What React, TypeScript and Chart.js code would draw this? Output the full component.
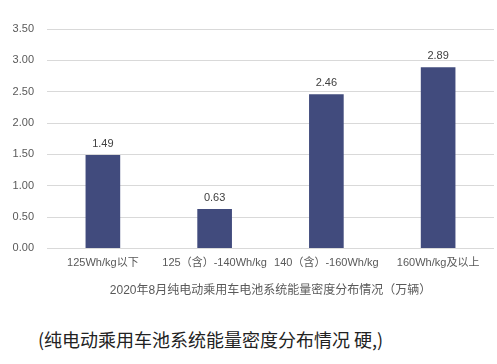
import React, { useEffect, useRef } from "react";
import { Chart, registerables } from "chart.js";

Chart.register(...registerables);

const categories = ["125Wh/kg以下", "125（含）-140Wh/kg", "140（含）-160Wh/kg", "160Wh/kg及以上"];
const values = [1.49, 0.63, 2.46, 2.89];
const yTicks = [0, 0.5, 1, 1.5, 2, 2.5, 3, 3.5];
const axisTitle = "2020年8月纯电动乘用车电池系统能量密度分布情况（万辆）";
const caption = "(纯电动乘用车池系统能量密度分布情况 硬,)";

const FONT = "'Liberation Sans', 'Noto Sans CJK SC', sans-serif";

const valueLabels = {
  id: "valueLabels",
  afterDatasetsDraw(chart: any) {
    const ctx = chart.ctx;
    const meta = chart.getDatasetMeta(0);
    ctx.save();
    ctx.font = `11px ${FONT}`;
    ctx.fillStyle = "#404040";
    ctx.textAlign = "center";
    ctx.textBaseline = "middle";
    meta.data.forEach((bar: any, i: number) => {
      ctx.fillText(values[i].toFixed(2), bar.x, bar.y - 11);
    });
    ctx.restore();
  },
};

export default function App() {
  const ref = useRef<HTMLCanvasElement>(null);
  useEffect(() => {
    document.body.style.margin = "0";
    const chart = new Chart(ref.current!, {
      type: "bar",
      data: {
        labels: categories,
        datasets: [
          {
            data: values,
            backgroundColor: "#414b7d",
            categoryPercentage: 1,
            barPercentage: 0.31,
          },
        ],
      },
      plugins: [valueLabels],
      options: {
        animation: false,
        responsive: false,
        maintainAspectRatio: false,
        layout: { padding: { top: 29, right: 3, left: 0, bottom: 0 } },
        plugins: { legend: { display: false }, tooltip: { enabled: false } },
        scales: {
          x: {
            grid: { display: false, drawTicks: false },
            border: { display: false },
            ticks: {
              color: "#595959",
              font: { size: 11, family: FONT },
              padding: 8,
              maxRotation: 0,
              autoSkip: false,
            },
            title: {
              display: true,
              text: axisTitle,
              color: "#595959",
              font: { size: 12, family: FONT },
              padding: { top: 6, bottom: 0 },
            },
          },
          y: {
            min: 0,
            max: 3.5,
            afterBuildTicks: (axis: any) => {
              axis.ticks = yTicks.map((v) => ({ value: v }));
            },
            afterFit: (axis: any) => {
              axis.width = 47;
            },
            grid: { color: "#d9d9d9", drawTicks: false, lineWidth: 1 },
            border: { display: false },
            ticks: {
              color: "#595959",
              font: { size: 11, family: FONT },
              padding: 13,
              callback: (v: any) => Number(v).toFixed(2),
            },
          },
        },
      },
    });
    return () => chart.destroy();
  }, []);
  return (
    <div style={{ position: "relative", width: 497, height: 364, background: "#fff" }}>
      <canvas ref={ref} width={497} height={298} style={{ display: "block" }} />
      <div
        style={{
          position: "absolute",
          left: 38,
          top: 327,
          fontFamily: "'Noto Sans CJK SC', sans-serif",
          fontSize: 18,
          color: "#222",
          lineHeight: "24px",
          whiteSpace: "nowrap",
        }}
      >
        {caption}
      </div>
    </div>
  );
}
